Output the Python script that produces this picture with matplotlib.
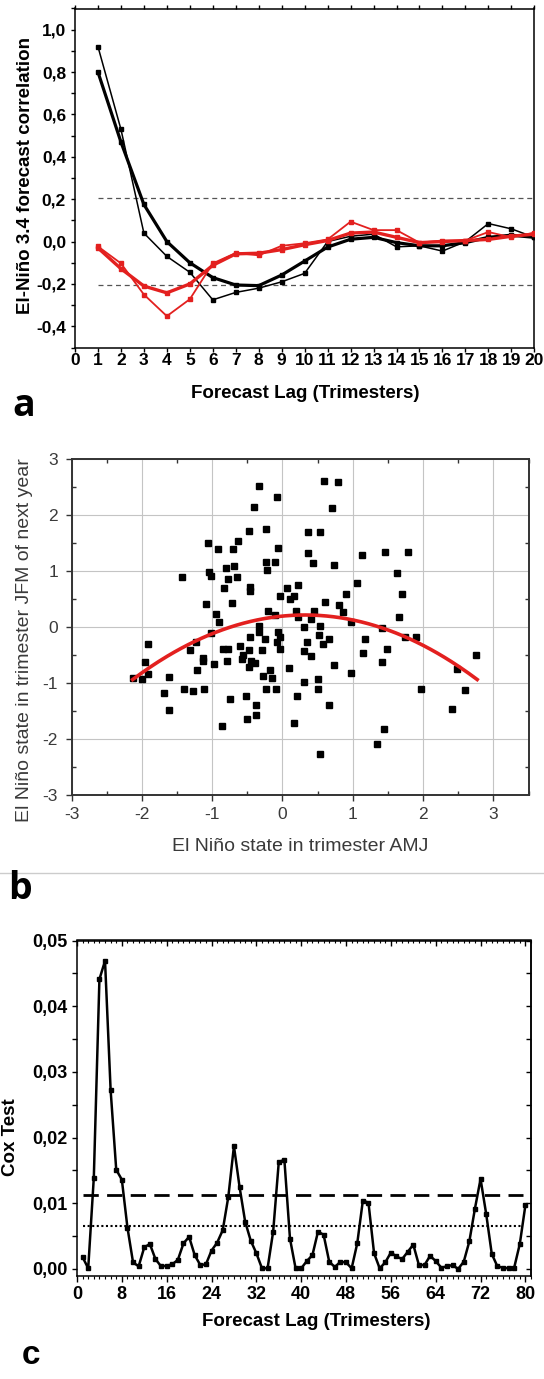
import numpy as np
import matplotlib
matplotlib.use("Agg")
import matplotlib.pyplot as plt
from matplotlib.ticker import MultipleLocator, FuncFormatter
from matplotlib.lines import Line2D

plt.rcParams['font.family'] = ['Liberation Sans', 'DejaVu Sans']
plt.rcParams['axes.unicode_minus'] = False

# ---------------- data: panel a ----------------
lags_a = list(range(1, 21))
black_thin = [0.92, 0.53, 0.04, -0.07, -0.145, -0.275, -0.24, -0.22, -0.19, -0.15,
              0.0, 0.025, 0.035, -0.025, -0.02, -0.045, 0.0, 0.085, 0.06, 0.02]
black_thick = [0.80, 0.47, 0.175, 0.0, -0.10, -0.17, -0.205, -0.208, -0.158, -0.092,
               -0.026, 0.011, 0.02, -0.005, -0.02, -0.02, -0.005, 0.02, 0.03, 0.02]
red_thin = [-0.023, -0.103, -0.25, -0.352, -0.272, -0.103, -0.054, -0.065, -0.02, -0.008,
            0.01, 0.094, 0.054, 0.054, -0.005, 0.005, 0.005, 0.045, 0.02, 0.042]
red_thick = [-0.03, -0.128, -0.21, -0.242, -0.2, -0.112, -0.058, -0.055, -0.038, -0.015,
             0.005, 0.04, 0.045, 0.02, -0.005, 0.0, 0.005, 0.01, 0.025, 0.035]
sig_a = 0.205
xticks_a = list(range(0, 21))

# ---------------- data: panel b ----------------
x_amj = [-0.33, -0.08, -0.40, -0.48, -0.23, -1.06, -0.92, -0.63, -0.70, -0.06,
         -0.24, -0.10, -0.22, -1.04, -1.01, -1.43, -0.80, -0.69, -0.78, -0.64,
         -0.83, -0.46, -0.46, 0.07, -1.09, -0.72, -0.03, 0.11, -0.95, -0.90,
         -0.21, -0.10, -0.34,
         0.59, 0.79, 0.71, 0.37, 0.54, 0.36, 0.44, 0.74, 1.13, 1.46,
         1.78, 1.63, 1.70, 1.66, 1.06, 0.90, 0.61, 0.80, 0.86, 0.98,
         0.22, 0.17, 0.19, 0.45, 0.22, 0.40, 0.30, 0.54,
         -1.91, -1.96, -1.91, -2.12, -2.00, -1.62, -1.68, -1.62, -1.40, -1.27,
         -1.12, -1.32, -1.23, -1.22, -1.13, -1.13, -1.01, -0.98, -0.85, -0.77,
         -0.79, -0.61, -0.56, -0.58, -0.47, -0.48, -0.44, -0.39, -0.29, -0.34,
         -0.46, -0.25, -0.27, -0.17, -0.15, -0.09, -0.23, -0.74, -0.52, -0.37,
         -0.51, -0.37, -0.86, -0.06, -0.04, -0.08, -0.03,
         0.52, 0.66, 0.58, 0.35, 0.30, 0.40, 0.09, 0.74, 0.97, 0.51,
         0.31, 0.51, 0.21, 0.66, 0.17, 0.53, 1.35, 1.44, 1.97, 2.41,
         2.59, 2.48, 2.76, 1.18, 1.15, 1.42, 1.49, 1.42, 1.75, 1.90]
y_jfm = [2.53, 2.33, 2.15, 1.72, 1.75, 1.50, 1.40, 1.54, 1.39, 1.41,
         1.16, 1.17, 1.02, 0.99, 0.91, 0.89, 1.06, 1.10, 0.87, 0.89,
         0.71, 0.72, 0.64, 0.71, 0.41, 0.44, 0.56, 0.51, 0.23, 0.09,
         0.29, 0.22, 0.03,
         2.61, 2.60, 2.13, 1.70, 1.70, 1.32, 1.14, 1.11, 1.30, 1.35,
         1.35, 0.97, 0.60, 0.19, 0.79, 0.60, 0.46, 0.39, 0.27, 0.10,
         0.76, 0.56, 0.30, 0.29, 0.18, 0.14, 0.01, 0.02,
         -0.30, -0.62, -0.83, -0.90, -0.92, -0.89, -1.17, -1.47, -1.10, -1.14,
         -1.11, -0.41, -0.26, -0.77, -0.55, -0.61, -0.11, -0.66, -0.39, -0.39,
         -0.61, -0.34, -0.49, -0.57, -0.41, -0.70, -0.60, -0.63, -0.41, -0.08,
         -0.18, -0.20, -0.87, -0.76, -0.91, -1.11, -1.10, -1.28, -1.23, -1.38,
         -1.64, -1.57, -1.76, -0.08, -0.17, -0.26, -0.38,
         -0.14, -0.20, -0.29, -0.26, -0.42, -0.52, -0.72, -0.67, -0.82, -0.92,
         -0.98, -1.11, -1.22, -1.38, -1.71, -2.27, -2.09, -1.81, -1.11, -1.45,
         -1.12, -0.75, -0.49, -0.20, -0.45, -0.62, -0.38, -0.01, -0.18, -0.17]
# quadratic fit: y = c2*x^2 + c1*x + c0
fit_coefs = [-0.192, 0.123, 0.200]
fit_range = [-2.13, 2.77]

# ---------------- data: panel c ----------------
lags_c = list(range(1, 81))
cox = [0.0018, 0.0001, 0.0139, 0.0441, 0.0469, 0.0272, 0.0151, 0.0136, 0.0063, 0.0010,
       0.0004, 0.0033, 0.0038, 0.0015, 0.0004, 0.0005, 0.0007, 0.0014, 0.0039, 0.0049,
       0.0021, 0.0006, 0.0007, 0.0028, 0.0040, 0.0059, 0.0110, 0.0187, 0.0125, 0.0072,
       0.0043, 0.0024, 0.0001, 0.0001, 0.0057, 0.0163, 0.0166, 0.0046, 0.0001, 0.0001,
       0.0012, 0.0021, 0.0057, 0.0052, 0.0011, 0.0003, 0.0011, 0.0010, 0.0001, 0.0039,
       0.0104, 0.0101, 0.0024, 0.0001, 0.0010, 0.0025, 0.0019, 0.0015, 0.0026, 0.0037,
       0.0006, 0.0006, 0.0020, 0.0012, 0.0002, 0.0004, 0.0006, 0.0000, 0.0011, 0.0042,
       0.0092, 0.0137, 0.0084, 0.0023, 0.0004, 0.0002, 0.0001, 0.0002, 0.0038, 0.0097]
cox_dashed = 0.0113
cox_dotted = 0.0065

RED = '#e3201f'

W, H = 544, 1379
fig = plt.figure(figsize=(W / 100, H / 100), dpi=100)


def rect(l, t, r, b):
    return [l / W, 1 - b / H, (r - l) / W, (b - t) / H]


def comma(decimals):
    def f(v, pos):
        if abs(v) < 1e-12:
            v = 0.0
        return f"{v:.{decimals}f}".replace('.', ',')
    return FuncFormatter(f)


def label_coords(ax, axis, px, py, l, t, r, b):
    fx = (px - l) / (r - l)
    fy = (b - py) / (b - t)
    a = ax.xaxis if axis == 'x' else ax.yaxis
    a.set_label_coords(fx, fy)
    a.label.set_va('center')
    a.label.set_ha('center')


# ================= panel a =================
la, ta, ra, ba = 75, 8.5, 534.3, 347.5
axa = fig.add_axes(rect(la, ta, ra, ba))
axa.hlines([sig_a, -sig_a], 1, 20, colors='#555555', linestyles=(0, (4, 3)), lw=0.9, zorder=1)
axa.plot(lags_a, black_thin, color='black', lw=1.1, marker='s', ms=2.4, zorder=3)
axa.plot(lags_a, black_thick, color='black', lw=2.3, marker='s', ms=3.0, zorder=3)
axa.plot(lags_a, red_thin, color=RED, lw=1.3, marker='s', ms=2.6, zorder=4)
axa.plot(lags_a, red_thick, color=RED, lw=2.4, marker='s', ms=3.0, zorder=4)
axa.set_xlim(0, 20)
axa.set_ylim(-0.5, 1.1)
axa.set_xticks(xticks_a)
axa.yaxis.set_major_locator(MultipleLocator(0.2))
axa.yaxis.set_minor_locator(MultipleLocator(0.1))
axa.yaxis.set_major_formatter(comma(1))
axa.tick_params(axis='x', which='major', direction='out', length=3, width=1,
                top=True, bottom=True, labelsize=12.5, pad=1)
axa.tick_params(axis='y', which='both', direction='out', length=2.7, width=1,
                left=True, right=False, labelsize=12.5, pad=3.7)
for s in axa.spines.values():
    s.set_linewidth(1.1)
for lbl in axa.get_xticklabels() + axa.get_yticklabels():
    lbl.set_fontweight('bold')
axa.set_xlabel('Forecast Lag (Trimesters)', fontsize=13.5, fontweight='bold')
axa.set_ylabel('El-Niño 3.4 forecast correlation', fontsize=13.5, fontweight='bold')
label_coords(axa, 'x', 305, 393, la, ta, ra, ba)
label_coords(axa, 'y', 26, 176, la, ta, ra, ba)

fig.text(24 / W, 1 - 406 / H, 'a', fontsize=27, fontweight='bold',
         family=['Open Sans', 'DejaVu Sans'], ha='center', va='center')

# ================= panel b =================
lb, tb, rb, bb = 71.5, 459.3, 528.5, 795.3
axb = fig.add_axes(rect(lb, tb, rb, bb))
axb.set_xlim(-3, 3.5)
axb.set_ylim(-3, 3)
axb.xaxis.set_major_locator(MultipleLocator(1))
axb.xaxis.set_minor_locator(MultipleLocator(0.5))
axb.yaxis.set_major_locator(MultipleLocator(1))
axb.yaxis.set_minor_locator(MultipleLocator(0.5))
axb.grid(True, which='major', color='#c4c4c4', lw=0.8)
axb.set_axisbelow(True)
axb.plot(x_amj, y_jfm, ls='none', marker='s', ms=4.8, color='black', zorder=3)
xfit = np.linspace(fit_range[0], fit_range[1], 200)
axb.plot(xfit, np.polyval(fit_coefs, xfit), color=RED, lw=2.6, zorder=4)
axb.tick_params(which='major', direction='out', length=4.3, width=1, colors='#333333',
                labelcolor='#3a3a3a', labelsize=12.5, top=False, right=False)
axb.tick_params(axis='y', which='major', pad=5.5)
axb.tick_params(axis='x', which='major', pad=4)
axb.tick_params(which='minor', direction='in', length=2.9, width=1, colors='#333333',
                top=True, right=True, bottom=True, left=True)
for s in axb.spines.values():
    s.set_linewidth(1.4)
    s.set_color('#333333')
axb.set_xlabel('El Niño state in trimester AMJ', fontsize=14, color='#3a3a3a')
axb.set_ylabel('El Niño state in trimester JFM of next year', fontsize=14, color='#3a3a3a')
label_coords(axb, 'x', 300, 846.7, lb, tb, rb, bb)
label_coords(axb, 'y', 25, 640, lb, tb, rb, bb)

fig.add_artist(Line2D([0, 1], [1 - 873 / H, 1 - 873 / H], color='#cccccc', lw=1.0,
                      transform=fig.transFigure))
fig.text(20 / W, 1 - 889 / H, 'b', fontsize=27, fontweight='bold',
         family=['Open Sans', 'DejaVu Sans'], ha='center', va='center')

# ================= panel c =================
lc, tc, rc, bc = 77, 940.5, 531, 1276
axc = fig.add_axes(rect(lc, tc, rc, bc))
axc.plot(lags_c, cox, color='black', lw=1.8, marker='s', ms=2.2, zorder=3)
axc.hlines(cox_dashed, 1, 79.5, colors='black', linestyles=(0, (5.5, 3)), lw=2.0)
axc.hlines(cox_dotted, 1, 79.5, colors='black', linestyles=(0, (1, 1.2)), lw=1.5)
axc.set_xlim(0, 81)
axc.set_ylim(-0.00107, 0.05)
axc.xaxis.set_major_locator(MultipleLocator(8))
axc.xaxis.set_minor_locator(MultipleLocator(1))
axc.yaxis.set_major_locator(MultipleLocator(0.01))
axc.yaxis.set_minor_locator(MultipleLocator(0.005))
axc.yaxis.set_major_formatter(comma(2))
axc.tick_params(axis='x', which='major', direction='out', length=4, width=1,
                top=False, labelsize=13, pad=3.2)
axc.tick_params(axis='x', which='minor', direction='out', length=2.2, width=0.8, top=False)
axc.tick_params(axis='y', which='both', direction='out', length=3.6, width=1,
                right=False, labelsize=13, pad=3)
sx = axc.secondary_xaxis('top')
sx.xaxis.set_major_locator(MultipleLocator(8))
sx.xaxis.set_minor_locator(MultipleLocator(1))
sx.tick_params(axis='x', which='major', direction='in', length=4, width=1, labeltop=False)
sx.tick_params(axis='x', which='minor', direction='in', length=2.2, width=0.8)
sy = axc.secondary_yaxis('right')
sy.yaxis.set_major_locator(MultipleLocator(0.01))
sy.yaxis.set_minor_locator(MultipleLocator(0.005))
sy.tick_params(axis='y', which='both', direction='in', length=3.6, width=1, labelright=False)
for a in (axc, sx, sy):
    for s in a.spines.values():
        s.set_linewidth(1.1)
for lbl in axc.get_xticklabels() + axc.get_yticklabels():
    lbl.set_fontweight('bold')
axc.set_xlabel('Forecast Lag (Trimesters)', fontsize=13.5, fontweight='bold')
axc.set_ylabel('Cox Test', fontsize=13.5, fontweight='bold')
label_coords(axc, 'x', 316, 1321.7, lc, tc, rc, bc)
label_coords(axc, 'y', 11, 1137, lc, tc, rc, bc)

fig.text(31 / W, 1 - 1356 / H, 'c', fontsize=24, fontweight='bold',
         family=['Liberation Sans', 'DejaVu Sans'], ha='center', va='center')

fig.savefig('out.png', dpi=100)
